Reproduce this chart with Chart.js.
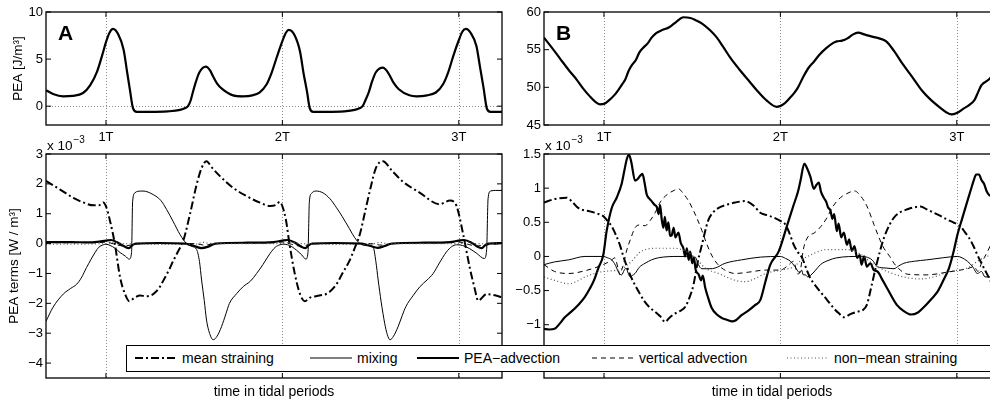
<!DOCTYPE html>
<html>
<head>
<meta charset="utf-8">
<script src="https://cdn.jsdelivr.net/npm/chart.js@4"></script>
<style>
html, body { margin: 0; padding: 0; background: #fff; overflow: hidden; width: 990px; height: 403px; }
#wrap { position: relative; width: 1010px; height: 403px; font-family: "Liberation Sans", Arial, sans-serif; }
.panel { position: absolute; }
#legend { position: absolute; left: 126px; top: 345px; width: 900px; height: 27px; box-sizing: border-box;
  border: 1.3px solid #000; background: #fff; z-index: 5; }
#legend .txt { position: absolute; top: 0; line-height: 25px; font-size: 14px; color: #000; white-space: nowrap; }
#legend svg { position: absolute; top: 7px; }
</style>
</head>
<body>
<div id="wrap">
  <div class="panel" style="left:0;top:0"><canvas id="topA" width="512" height="145"></canvas></div>
  <div class="panel" style="left:490px;top:0"><canvas id="topB" width="520" height="145"></canvas></div>
  <div class="panel" style="left:0;top:130px"><canvas id="lowA" width="512" height="273"></canvas></div>
  <div class="panel" style="left:490px;top:130px"><canvas id="lowB" width="520" height="273"></canvas></div>
  <div id="legend"></div>
</div>
<script>
// axis ranges and ticks
const tMin = 0.66, tMax = 3.245;
const xTickVals = [1, 2, 3];
const xTickLabels = ['1T', '2T', '3T'];
const yTicksTopA = [0, 5, 10];
const yTicksTopB = [45, 50, 55, 60];
const yTicksLowA = [-4, -3, -2, -1, 0, 1, 2, 3];
const yTicksLowB = [-1, -0.5, 0, 0.5, 1, 1.5];
const seriesNames = ['mean straining', 'mixing', 'PEA\u2212advection', 'vertical advection', 'non\u2212mean straining'];

// PEA [J/m3], site A and B, [time in tidal periods, value]
const peaA = [[0.66,1.7],[0.70,1.3],[0.757,1.05],[0.81,1.1],[0.87,1.4],[0.91,2.2],[0.95,3.7],[0.98,5.5],[1.0,6.8],[1.02,7.8],[1.04,8.2],[1.07,7.6],[1.10,6.0],[1.12,3.6],[1.136,1.7],[1.153,-0.2],[1.175,-0.6],[1.25,-0.6],[1.35,-0.55],[1.42,-0.4],[1.45,-0.2],[1.465,0.0],[1.48,0.6],[1.49,1.3],[1.51,2.6],[1.53,3.6],[1.566,4.2],[1.59,3.8],[1.606,3.2],[1.63,2.4],[1.66,1.8],[1.72,1.15],[1.776,1.05],[1.83,1.15],[1.87,1.45],[1.91,2.3],[1.94,3.6],[1.97,5.3],[2.0,6.9],[2.02,7.8],[2.037,8.1],[2.07,7.5],[2.10,5.8],[2.12,3.5],[2.14,1.5],[2.155,-0.2],[2.175,-0.6],[2.25,-0.6],[2.35,-0.55],[2.41,-0.4],[2.44,-0.2],[2.455,0.0],[2.47,0.6],[2.49,1.5],[2.51,2.7],[2.53,3.6],[2.57,4.1],[2.59,3.8],[2.61,3.2],[2.63,2.5],[2.66,1.8],[2.72,1.15],[2.76,1.05],[2.82,1.15],[2.87,1.45],[2.91,2.3],[2.94,3.6],[2.97,5.4],[3.0,7.0],[3.02,7.9],[3.04,8.2],[3.07,7.7],[3.10,6.4],[3.12,4.2],[3.14,2.0],[3.16,-0.3],[3.18,-0.6],[3.245,-0.6]];
const peaB = [[0.66,56.6],[0.70,55.4],[0.75,53.85],[0.80,52.3],[0.846,51.0],[0.88,49.9],[0.92,48.8],[0.95,48.1],[0.977,47.75],[1.0,47.8],[1.03,48.3],[1.06,49.0],[1.08,49.6],[1.10,50.3],[1.12,51.0],[1.14,52.2],[1.16,53.0],[1.18,53.6],[1.20,54.6],[1.22,55.2],[1.25,55.9],[1.27,56.6],[1.296,57.2],[1.33,57.6],[1.37,57.97],[1.41,58.7],[1.45,59.3],[1.49,59.2],[1.52,58.9],[1.56,58.4],[1.60,57.6],[1.64,56.6],[1.675,55.4],[1.72,53.8],[1.77,52.3],[1.82,50.9],[1.865,49.65],[1.92,48.3],[1.98,47.4],[2.02,47.8],[2.05,48.5],[2.08,49.3],[2.10,50.0],[2.13,51.4],[2.16,52.6],[2.19,53.4],[2.22,54.3],[2.26,55.2],[2.30,55.9],[2.32,56.1],[2.35,56.2],[2.38,56.5],[2.41,57.0],[2.44,57.25],[2.48,57.0],[2.525,56.7],[2.56,56.5],[2.60,56.1],[2.645,54.8],[2.69,53.2],[2.75,51.3],[2.80,49.65],[2.85,48.4],[2.90,47.4],[2.94,46.7],[2.97,46.4],[3.0,46.6],[3.04,47.2],[3.07,47.65],[3.10,48.3],[3.12,49.3],[3.14,50.3],[3.18,51.0],[3.21,51.8],[3.245,52.8]];

// PEA terms [1e-3 W/m3], site A
const meanA = [[0.66,2.1],[0.74,1.81],[0.815,1.53],[0.87,1.38],[0.93,1.28],[0.96,1.28],[0.985,1.38],[1.0,1.25],[1.023,0.76],[1.05,0.0],[1.08,-1.13],[1.108,-1.69],[1.132,-1.93],[1.16,-1.82],[1.193,-1.74],[1.23,-1.76],[1.268,-1.69],[1.30,-1.5],[1.325,-1.24],[1.36,-0.85],[1.381,-0.58],[1.41,-0.25],[1.438,0.09],[1.476,0.98],[1.514,1.98],[1.542,2.53],[1.57,2.76],[1.60,2.55],[1.646,2.26],[1.72,1.87],[1.797,1.59],[1.873,1.37],[1.93,1.26],[1.965,1.3],[1.985,1.4],[2.0,1.25],[2.02,0.8],[2.04,0.0],[2.07,-1.0],[2.10,-1.69],[2.127,-1.93],[2.16,-1.8],[2.21,-1.74],[2.26,-1.65],[2.307,-1.36],[2.34,-1.0],[2.38,-0.58],[2.41,-0.15],[2.44,0.33],[2.47,1.1],[2.50,1.87],[2.53,2.53],[2.57,2.76],[2.62,2.45],[2.68,2.09],[2.78,1.70],[2.89,1.32],[2.95,1.44],[2.987,1.26],[3.025,0.31],[3.062,-0.8],[3.09,-1.5],[3.11,-1.91],[3.157,-1.69],[3.21,-1.74],[3.245,-1.8]];
const mixA = [[0.66,-2.6],[0.70,-2.13],[0.758,-1.69],[0.80,-1.5],[0.834,-1.36],[0.86,-1.15],[0.89,-0.8],[0.938,-0.3],[0.96,-0.12],[0.985,-0.04],[1.0,-0.02],[1.023,-0.06],[1.05,-0.15],[1.08,-0.3],[1.11,-0.42],[1.132,-0.52],[1.145,-0.3],[1.151,1.4],[1.164,1.70],[1.18,1.75],[1.21,1.76],[1.268,1.64],[1.31,1.45],[1.344,1.14],[1.38,0.75],[1.42,0.3],[1.457,0.0],[1.49,-0.1],[1.514,-0.2],[1.53,-0.6],[1.542,-1.22],[1.557,-1.9],[1.57,-2.56],[1.59,-3.05],[1.608,-3.22],[1.63,-3.1],[1.655,-2.78],[1.68,-2.35],[1.70,-2.0],[1.74,-1.68],[1.778,-1.44],[1.82,-1.25],[1.854,-1.0],[1.89,-0.7],[1.93,-0.33],[1.96,-0.12],[1.986,-0.04],[2.0,-0.02],[2.04,-0.06],[2.08,-0.22],[2.11,-0.38],[2.133,-0.52],[2.145,-0.3],[2.153,1.4],[2.165,1.68],[2.19,1.76],[2.23,1.70],[2.27,1.5],[2.307,1.2],[2.34,0.9],[2.38,0.5],[2.41,0.2],[2.44,0.0],[2.48,-0.07],[2.514,-0.11],[2.53,-0.6],[2.543,-1.22],[2.56,-1.95],[2.58,-2.67],[2.595,-3.05],[2.61,-3.22],[2.63,-3.1],[2.656,-2.78],[2.68,-2.4],[2.70,-2.11],[2.74,-1.75],[2.78,-1.44],[2.82,-1.22],[2.855,-1.0],[2.89,-0.65],[2.93,-0.28],[2.96,-0.1],[2.987,-0.04],[3.02,-0.06],[3.062,-0.17],[3.10,-0.32],[3.145,-0.5],[3.158,-0.2],[3.166,1.5],[3.18,1.76],[3.21,1.78],[3.245,1.78]];
const advA = [[0.66,0.05],[0.80,0.05],[0.90,0.04],[0.95,0.06],[1.0,0.1],[1.03,0.12],[1.06,0.05],[1.10,-0.08],[1.13,-0.15],[1.15,-0.05],[1.17,0.0],[1.30,0.02],[1.45,0.0],[1.50,-0.08],[1.54,-0.15],[1.58,-0.1],[1.62,0.0],[1.80,0.03],[1.95,0.05],[2.0,0.1],[2.03,0.12],[2.07,0.04],[2.10,-0.08],[2.13,-0.15],[2.15,-0.05],[2.17,0.0],[2.30,0.02],[2.45,0.0],[2.50,-0.08],[2.54,-0.14],[2.58,-0.08],[2.62,0.0],[2.80,0.03],[2.95,0.05],[3.0,0.1],[3.03,0.12],[3.07,0.04],[3.10,-0.08],[3.13,-0.15],[3.15,-0.05],[3.17,0.0],[3.245,0.02]];
const vertA = [[0.66,0.03],[0.95,0.03],[1.0,0.05],[1.05,-0.02],[1.10,-0.08],[1.14,-0.05],[1.20,0.0],[1.50,0.0],[1.56,-0.05],[1.62,0.0],[1.95,0.03],[2.0,0.05],[2.05,-0.02],[2.10,-0.08],[2.14,-0.05],[2.20,0.0],[2.50,0.0],[2.56,-0.05],[2.62,0.0],[2.95,0.03],[3.0,0.05],[3.05,-0.02],[3.10,-0.08],[3.14,-0.05],[3.245,0.0]];
const nonA = [[0.66,-0.02],[0.95,-0.01],[1.0,0.0],[1.05,0.05],[1.10,0.0],[1.50,-0.03],[1.55,0.04],[1.60,0.0],[2.0,0.0],[2.05,0.05],[2.10,0.0],[2.50,-0.03],[2.55,0.04],[2.60,0.0],[3.0,0.0],[3.05,0.05],[3.10,0.0],[3.245,-0.01]];

// PEA terms [1e-3 W/m3], site B
const meanB = [[0.66,0.79],[0.72,0.84],[0.788,0.86],[0.82,0.8],[0.854,0.71],[0.92,0.66],[0.96,0.63],[0.996,0.59],[1.02,0.52],[1.044,0.44],[1.07,0.3],[1.09,0.17],[1.11,0.0],[1.13,-0.15],[1.15,-0.28],[1.176,-0.42],[1.20,-0.53],[1.233,-0.67],[1.26,-0.75],[1.29,-0.81],[1.32,-0.88],[1.347,-0.96],[1.37,-0.9],[1.40,-0.84],[1.43,-0.8],[1.46,-0.74],[1.485,-0.6],[1.507,-0.42],[1.53,-0.1],[1.555,0.17],[1.59,0.52],[1.62,0.65],[1.65,0.71],[1.70,0.76],[1.744,0.79],[1.80,0.81],[1.85,0.74],[1.886,0.64],[1.93,0.6],[1.962,0.57],[2.0,0.52],[2.028,0.47],[2.05,0.35],[2.076,0.17],[2.10,0.06],[2.123,-0.02],[2.15,-0.2],[2.17,-0.32],[2.20,-0.43],[2.227,-0.52],[2.26,-0.62],[2.303,-0.76],[2.33,-0.83],[2.36,-0.89],[2.40,-0.84],[2.436,-0.81],[2.47,-0.78],[2.49,-0.71],[2.515,-0.45],[2.54,-0.17],[2.565,0.08],[2.587,0.27],[2.62,0.47],[2.644,0.57],[2.68,0.65],[2.72,0.69],[2.76,0.72],[2.795,0.73],[2.83,0.69],[2.87,0.64],[2.91,0.59],[2.946,0.54],[2.98,0.5],[3.02,0.44],[3.045,0.36],[3.07,0.27],[3.095,0.15],[3.117,0.02],[3.14,-0.1],[3.174,-0.27],[3.21,-0.45],[3.245,-0.55]];
const mixB = [[0.66,-0.12],[0.72,-0.08],[0.80,-0.05],[0.892,0.0],[0.996,0.0],[1.02,-0.02],[1.044,-0.05],[1.065,-0.13],[1.08,-0.22],[1.10,-0.27],[1.115,-0.2],[1.125,-0.17],[1.138,-0.25],[1.148,-0.3],[1.16,-0.28],[1.176,-0.25],[1.20,-0.16],[1.233,-0.1],[1.27,-0.05],[1.308,-0.02],[1.42,0.0],[1.517,-0.01],[1.535,-0.12],[1.555,-0.18],[1.60,-0.18],[1.63,-0.17],[1.687,-0.1],[1.78,-0.05],[1.886,-0.01],[2.0,0.0],[2.03,-0.03],[2.057,-0.07],[2.08,-0.14],[2.095,-0.2],[2.11,-0.24],[2.12,-0.2],[2.13,-0.27],[2.142,-0.27],[2.155,-0.3],[2.17,-0.28],[2.20,-0.2],[2.227,-0.12],[2.27,-0.06],[2.32,-0.02],[2.45,0.0],[2.52,-0.05],[2.55,-0.15],[2.60,-0.17],[2.644,-0.18],[2.67,-0.14],[2.70,-0.1],[2.76,-0.07],[2.83,-0.05],[2.92,-0.02],[3.004,0.0],[3.03,-0.02],[3.06,-0.07],[3.09,-0.15],[3.117,-0.25],[3.14,-0.22],[3.16,-0.3],[3.19,-0.3],[3.245,-0.28]];
const advB = [[0.66,-1.06],[0.69,-1.07],[0.72,-1.06],[0.75,-0.98],[0.778,-0.89],[0.81,-0.82],[0.854,-0.71],[0.89,-0.6],[0.92,-0.47],[0.945,-0.34],[0.968,-0.17],[0.996,0.02],[1.015,0.37],[1.044,0.71],[1.072,0.86],[1.10,1.06],[1.115,1.25],[1.13,1.43],[1.142,1.49],[1.155,1.38],[1.176,1.11],[1.19,1.13],[1.205,1.18],[1.218,1.21],[1.23,1.08],[1.242,0.91],[1.256,0.85],[1.27,0.81],[1.285,0.76],[1.30,0.72],[1.31,0.62],[1.318,0.75],[1.327,0.55],[1.337,0.42],[1.345,0.58],[1.355,0.38],[1.365,0.5],[1.375,0.3],[1.384,0.31],[1.395,0.42],[1.405,0.28],[1.422,0.35],[1.435,0.2],[1.45,0.12],[1.46,0.0],[1.47,0.12],[1.48,-0.05],[1.489,0.07],[1.50,-0.1],[1.51,-0.02],[1.52,-0.2],[1.536,-0.26],[1.55,-0.35],[1.56,-0.28],[1.574,-0.46],[1.59,-0.6],[1.61,-0.75],[1.64,-0.85],[1.668,-0.9],[1.70,-0.93],[1.725,-0.95],[1.75,-0.93],[1.78,-0.86],[1.82,-0.79],[1.858,-0.71],[1.886,-0.64],[1.915,-0.37],[1.943,-0.12],[1.99,0.07],[2.04,0.47],[2.076,0.76],[2.10,0.95],[2.114,1.11],[2.136,1.36],[2.15,1.3],[2.17,1.17],[2.19,0.99],[2.205,1.05],[2.218,1.08],[2.23,0.95],[2.246,0.86],[2.26,0.8],[2.27,0.72],[2.284,0.67],[2.295,0.55],[2.305,0.62],[2.32,0.37],[2.33,0.48],[2.345,0.28],[2.36,0.35],[2.377,0.17],[2.39,0.25],[2.405,0.08],[2.42,0.15],[2.435,-0.02],[2.45,0.02],[2.46,-0.12],[2.475,0.0],[2.49,-0.15],[2.51,-0.1],[2.53,-0.2],[2.55,-0.22],[2.58,-0.35],[2.606,-0.47],[2.66,-0.71],[2.70,-0.8],[2.74,-0.85],[2.78,-0.82],[2.814,-0.74],[2.85,-0.64],[2.89,-0.52],[2.92,-0.37],[2.956,-0.17],[2.98,0.05],[3.004,0.32],[3.03,0.55],[3.06,0.81],[3.08,0.98],[3.098,1.13],[3.11,1.2],[3.126,1.2],[3.14,1.12],[3.155,1.06],[3.17,0.95],[3.19,0.89],[3.21,0.95],[3.245,0.85]];
const vertB = [[0.66,-0.12],[0.72,-0.22],[0.80,-0.25],[0.892,-0.21],[0.996,-0.12],[1.04,-0.06],[1.062,-0.02],[1.08,-0.18],[1.09,-0.27],[1.10,-0.2],[1.11,-0.12],[1.13,0.1],[1.15,0.25],[1.176,0.42],[1.20,0.46],[1.233,0.45],[1.26,0.52],[1.29,0.64],[1.32,0.8],[1.36,0.91],[1.40,0.97],[1.422,0.99],[1.45,0.92],[1.48,0.81],[1.52,0.6],[1.555,0.38],[1.58,0.2],[1.61,0.02],[1.64,-0.1],[1.668,-0.17],[1.70,-0.22],[1.744,-0.25],[1.82,-0.23],[1.915,-0.2],[2.0,-0.2],[2.04,-0.14],[2.076,-0.07],[2.09,-0.2],[2.10,-0.26],[2.115,-0.18],[2.13,0.1],[2.16,0.3],[2.19,0.34],[2.23,0.44],[2.26,0.55],[2.30,0.74],[2.34,0.86],[2.377,0.92],[2.42,0.96],[2.45,0.9],[2.49,0.74],[2.53,0.47],[2.56,0.27],[2.587,0.12],[2.62,0.0],[2.644,-0.1],[2.68,-0.2],[2.72,-0.26],[2.83,-0.27],[2.946,-0.23],[3.02,-0.2],[3.06,-0.18],[3.098,-0.15],[3.12,-0.22],[3.14,-0.1],[3.17,0.05],[3.20,0.2],[3.245,0.3]];
const nonB = [[0.66,-0.3],[0.72,-0.35],[0.80,-0.4],[0.85,-0.36],[0.892,-0.3],[0.996,-0.22],[1.08,-0.2],[1.12,-0.15],[1.157,-0.07],[1.214,0.08],[1.308,0.12],[1.40,0.12],[1.46,0.08],[1.517,-0.02],[1.574,-0.17],[1.65,-0.25],[1.744,-0.35],[1.80,-0.37],[1.86,-0.32],[1.915,-0.25],[2.0,-0.2],[2.076,-0.15],[2.12,-0.05],[2.17,0.02],[2.26,0.1],[2.377,0.1],[2.45,0.04],[2.53,-0.12],[2.606,-0.22],[2.70,-0.3],[2.795,-0.33],[2.87,-0.3],[2.96,-0.22],[3.06,-0.17],[3.13,-0.05],[3.19,0.02],[3.245,0.06]];

Chart.defaults.font.family = '"Liberation Sans", Arial, Helvetica, sans-serif';
Chart.defaults.font.size = 13;
Chart.defaults.color = '#000';

// line styles, same order as seriesNames
const styles = [
  { borderWidth: 2, borderDash: [8, 3, 2, 3], borderColor: '#000' },
  { borderWidth: 1, borderDash: [], borderColor: '#000' },
  { borderWidth: 2.2, borderDash: [], borderColor: '#000' },
  { borderWidth: 1, borderDash: [5, 4], borderColor: '#000' },
  { borderWidth: 1.2, borderDash: [1, 2.5], borderColor: '#555' }
];

function pts(arr) { return arr.map(p => ({ x: p[0], y: p[1] })); }
function fmt(v) { return String(v).replace('-', '\u2212'); }

function termSets(series) {
  // draw order: dotted, dashed, mixing, mean, advection on top
  const order = [4, 3, 1, 0, 2];
  return order.map(i => Object.assign({ label: seriesNames[i], data: pts(series[i]), pointRadius: 0 }, styles[i]));
}

const framePlugin = {
  id: 'frame',
  beforeDatasetsDraw(chart, args, o) {
    const { ctx, chartArea: a, scales: { x, y } } = chart;
    ctx.save();
    ctx.strokeStyle = '#8a8a8a';
    ctx.lineWidth = 1;
    ctx.setLineDash([1, 2]);
    ctx.beginPath();
    xTickVals.forEach(v => {
      const px = Math.round(x.getPixelForValue(v)) + 0.5;
      ctx.moveTo(px, a.top); ctx.lineTo(px, a.bottom);
    });
    if (o.zeroLine) {
      const py = Math.round(y.getPixelForValue(0)) + 0.5;
      ctx.moveTo(a.left, py); ctx.lineTo(a.right, py);
    }
    ctx.stroke();
    ctx.restore();
  },
  afterDatasetsDraw(chart, args, o) {
    const { ctx, chartArea: a, scales: { x, y } } = chart;
    ctx.save();
    ctx.strokeStyle = '#000';
    ctx.lineWidth = 1.3;
    ctx.setLineDash([]);
    ctx.strokeRect(a.left, a.top, a.right - a.left, a.bottom - a.top);
    const tl = 5;
    ctx.beginPath();
    xTickVals.forEach(v => {
      const px = x.getPixelForValue(v);
      ctx.moveTo(px, a.bottom); ctx.lineTo(px, a.bottom - tl);
      ctx.moveTo(px, a.top); ctx.lineTo(px, a.top + tl);
    });
    o.yTicks.forEach(v => {
      const py = y.getPixelForValue(v);
      ctx.moveTo(a.left, py); ctx.lineTo(a.left + tl, py);
      ctx.moveTo(a.right, py); ctx.lineTo(a.right - tl, py);
    });
    ctx.lineWidth = 1;
    ctx.stroke();
    ctx.fillStyle = '#000';
    if (o.letter) {
      ctx.font = 'bold 21px "Liberation Sans", Arial, sans-serif';
      ctx.textAlign = 'left';
      ctx.textBaseline = 'alphabetic';
      ctx.fillText(o.letter, a.left + 12, a.top + 28);
    }
    if (o.exponent) {
      ctx.textAlign = 'left';
      ctx.textBaseline = 'alphabetic';
      ctx.font = '13.5px "Liberation Sans", Arial, sans-serif';
      ctx.fillText('x 10', a.left + 1, a.top - 4);
      const w = ctx.measureText('x 10').width;
      ctx.font = '10px "Liberation Sans", Arial, sans-serif';
      ctx.fillText('\u22123', a.left + 2 + w, a.top - 11);
    }
    ctx.restore();
  }
};

function makePanel(id, cfg) {
  return new Chart(document.getElementById(id), {
    type: 'line',
    data: { datasets: cfg.datasets },
    options: {
      responsive: false,
      animation: false,
      events: [],
      layout: { padding: { top: cfg.padTop, right: 10, left: 0, bottom: 0 } },
      elements: { point: { radius: 0 }, line: { cubicInterpolationMode: 'monotone', fill: false } },
      plugins: {
        legend: { display: false },
        tooltip: { enabled: false },
        frame: { letter: cfg.letter, exponent: cfg.exponent, zeroLine: cfg.zeroLine, yTicks: cfg.yTicks }
      },
      scales: {
        x: {
          type: 'linear', min: tMin, max: tMax,
          grid: { display: false, drawTicks: false },
          border: { display: false },
          afterBuildTicks: s => { s.ticks = xTickVals.map(v => ({ value: v })); },
          ticks: {
            display: cfg.xLabels, padding: 5, maxRotation: 0, autoSkip: false,
            callback: v => xTickLabels[xTickVals.indexOf(v)]
          },
          title: {
            display: !cfg.xLabels, text: 'time in tidal periods',
            font: { size: 14 }, padding: { top: 0, bottom: 2 }
          },
          afterFit: s => { s.height = cfg.xHeight; }
        },
        y: {
          type: 'linear', min: cfg.yMin, max: cfg.yMax,
          grid: { display: false, drawTicks: false },
          border: { display: false },
          afterBuildTicks: s => { s.ticks = cfg.yTicks.map(v => ({ value: v })); },
          ticks: { padding: 3, callback: v => fmt(v) },
          title: {
            display: !!cfg.yTitle, text: cfg.yTitle || '',
            font: { size: 13.5 }, padding: { top: cfg.yTitlePad || 0, bottom: 0 }
          },
          afterFit: s => { s.width = cfg.yWidth; }
        }
      }
    },
    plugins: [framePlugin]
  });
}

makePanel('topA', {
  datasets: [{ data: pts(peaA), borderColor: '#000', borderWidth: 2.2, pointRadius: 0 }],
  padTop: 12, xHeight: 20, xLabels: true, yWidth: 46,
  yMin: -2, yMax: 10, yTicks: yTicksTopA,
  yTitle: 'PEA [J/m\u00b3]', yTitlePad: 10, letter: 'A', zeroLine: true
});
makePanel('topB', {
  datasets: [{ data: pts(peaB), borderColor: '#000', borderWidth: 2.2, pointRadius: 0 }],
  padTop: 12, xHeight: 20, xLabels: true, yWidth: 54,
  yMin: 45, yMax: 60, yTicks: yTicksTopB, letter: 'B'
});
makePanel('lowA', {
  datasets: termSets([meanA, mixA, advA, vertA, nonA]),
  padTop: 24, xHeight: 25, xLabels: false, yWidth: 46,
  yMin: -4.5, yMax: 3, yTicks: yTicksLowA,
  yTitle: 'PEA terms [W / m\u00b3]', yTitlePad: 6.5, exponent: true
});
makePanel('lowB', {
  datasets: termSets([meanB, mixB, advB, vertB, nonB]),
  padTop: 24, xHeight: 25, xLabels: false, yWidth: 54,
  yMin: -1.78, yMax: 1.5, yTicks: yTicksLowB, exponent: true
});

// shared legend box across both lower panels
const legendSampleLeft = [8, 183, 290, 465, 660];
const legend = document.getElementById('legend');
seriesNames.forEach((name, i) => {
  const st = styles[i];
  const dash = st.borderDash.length ? st.borderDash.join(',') : 'none';
  const l = legendSampleLeft[i];
  legend.insertAdjacentHTML('beforeend',
    `<svg width="42" height="10" style="left:${l}px"><line x1="0" y1="5" x2="42" y2="5" stroke="${st.borderColor}" stroke-width="${st.borderWidth}" stroke-dasharray="${dash}"/></svg>` +
    `<span class="txt" style="left:${l + 47}px">${name}</span>`);
});
</script>
</body>
</html>
